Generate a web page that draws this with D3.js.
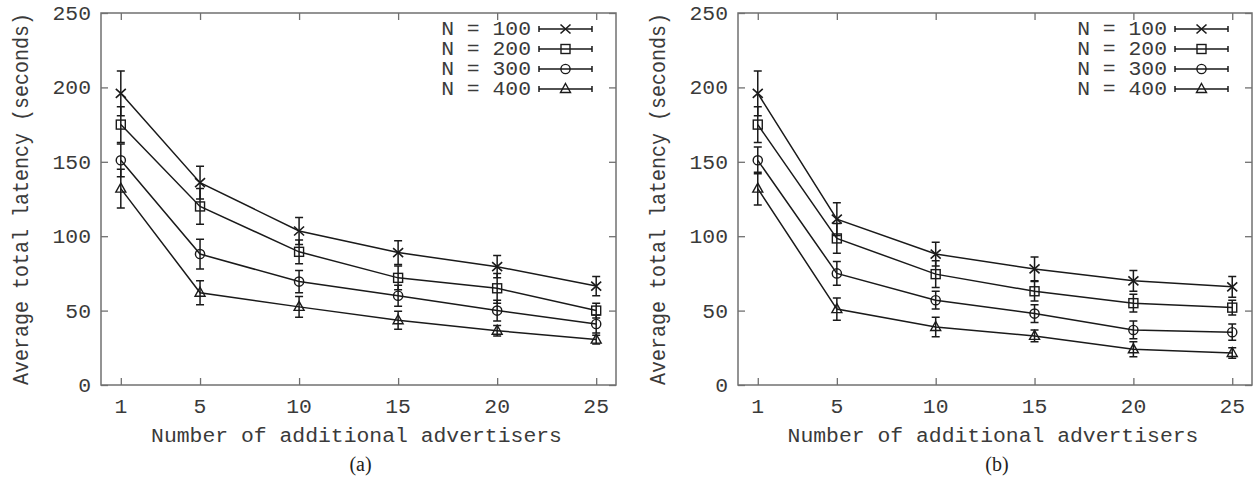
<!DOCTYPE html>
<html>
<head>
<meta charset="utf-8">
<script src="https://cdn.jsdelivr.net/npm/d3@7"></script>
<style>
  html, body { margin: 0; padding: 0; background: #fff; }
  svg { display: block; }
</style>
</head>
<body>
<svg id="chart" width="1253" height="480"></svg>
<script>
// ---------- data ----------
const xValues = [1, 5, 10, 15, 20, 25];
const xTicks = [1, 5, 10, 15, 20, 25];
const yTicks = [0, 50, 100, 150, 200, 250];
const seriesNames = ["N = 100", "N = 200", "N = 300", "N = 400"];
const markerTypes = ["cross", "square", "circle", "triangle"];
const panelLabels = ["(a)", "(b)"];
const xAxisTitle = "Number of additional advertisers";
const yAxisTitle = "Average total latency (seconds)";

// panel (a)
const a_n100 = [196, 136, 103.5, 89, 79.5, 66.5];
const a_n100_err = [15, 11, 9, 8, 7.5, 6.5];
const a_n200 = [175, 120, 89.5, 72, 65, 50];
const a_n200_err = [12, 12, 8, 8, 10, 5];
const a_n300 = [151, 88, 69.5, 60, 50, 41];
const a_n300_err = [11, 10, 7.5, 7, 7, 6];
const a_n400 = [132, 62, 52.5, 43.5, 36.5, 30.5];
const a_n400_err = [13, 8, 7, 6, 3.5, 3];

// panel (b)
const b_n100 = [196, 111.5, 88, 78, 70, 66];
const b_n100_err = [15, 11, 8, 8, 7, 7];
const b_n200 = [175, 98.5, 74.5, 63, 55, 52];
const b_n200_err = [12, 10, 9, 6.5, 6, 5];
const b_n300 = [151, 75, 57, 48, 37, 35.5];
const b_n300_err = [9, 8, 6, 6, 6, 5.5];
const b_n400 = [132, 51, 39, 33, 24, 21.5];
const b_n400_err = [11, 7.5, 6.5, 4, 5, 3.5];

const panels = [
  { left: 101, right: 616, values: [a_n100, a_n200, a_n300, a_n400], errs: [a_n100_err, a_n200_err, a_n300_err, a_n400_err] },
  { left: 738, right: 1252, values: [b_n100, b_n200, b_n300, b_n400], errs: [b_n100_err, b_n200_err, b_n300_err, b_n400_err] }
];

// ---------- drawing ----------
const svg = d3.select("#chart");
const plotTop = 13, plotBottom = 385;
const frameColor = "#707070";
const textColor = "#3a3a3a";
const lineColor = "#1a1a1a";
const monoFont = "'Liberation Mono', 'DejaVu Sans Mono', monospace";
const fs = 20;
const sx = 1.07;

function drawMarker(g, type, cx, cy) {
  if (type === "cross") {
    g.append("path").attr("d", `M${cx-5},${cy-4.5}L${cx+5},${cy+4.5}M${cx-5},${cy+4.5}L${cx+5},${cy-4.5}`)
      .attr("stroke", lineColor).attr("stroke-width", 1.6).attr("fill", "none");
  } else if (type === "square") {
    g.append("rect").attr("x", cx-4.5).attr("y", cy-4.5).attr("width", 9).attr("height", 9)
      .attr("stroke", lineColor).attr("stroke-width", 1.4).attr("fill", "none");
  } else if (type === "circle") {
    g.append("circle").attr("cx", cx).attr("cy", cy).attr("r", 4.6)
      .attr("stroke", lineColor).attr("stroke-width", 1.4).attr("fill", "none");
  } else {
    g.append("path").attr("d", `M${cx},${cy-5.5}L${cx+5},${cy+3.5}L${cx-5},${cy+3.5}Z`)
      .attr("stroke", lineColor).attr("stroke-width", 1.4).attr("fill", "none");
  }
}

panels.forEach((p, pi) => {
  const g = svg.append("g");
  const x = d3.scaleLinear().domain([0, 26]).range([p.left, p.right]);
  const y = d3.scaleLinear().domain([0, 250]).range([plotBottom, plotTop]);
  const tickLen = 7;

  // ticks (mirrored, inward)
  const axB = d3.axisBottom(x).tickValues(xTicks).tickSize(-tickLen).tickFormat("");
  const axT = d3.axisTop(x).tickValues(xTicks).tickSize(-tickLen).tickFormat("");
  const axL = d3.axisLeft(y).tickValues(yTicks).tickSize(-tickLen).tickFormat("");
  const axR = d3.axisRight(y).tickValues(yTicks).tickSize(-tickLen).tickFormat("");
  [[axB, `translate(0,${plotBottom})`], [axT, `translate(0,${plotTop})`], [axL, `translate(${p.left},0)`], [axR, `translate(${p.right},0)`]]
    .forEach(([ax, tr]) => {
      const a = g.append("g").attr("transform", tr).call(ax);
      a.select(".domain").remove();
      a.selectAll("line").attr("stroke", frameColor).attr("stroke-width", 1.3);
    });

  // frame
  g.append("rect").attr("x", p.left).attr("y", plotTop).attr("width", p.right - p.left).attr("height", plotBottom - plotTop)
    .attr("fill", "none").attr("stroke", frameColor).attr("stroke-width", 1.5);

  // tick labels
  xTicks.forEach(t => {
    g.append("text").attr("transform", `translate(${x(t)},${413}) scale(${sx},1)`)
      .attr("text-anchor", "middle").attr("font-family", monoFont).attr("font-size", fs)
      .attr("fill", textColor).text(t);
  });
  yTicks.forEach(t => {
    g.append("text").attr("transform", `translate(${p.left - 10},${y(t) + 7}) scale(${sx},1)`)
      .attr("text-anchor", "end").attr("font-family", monoFont).attr("font-size", fs)
      .attr("fill", textColor).text(t);
  });

  // axis titles
  const cx = (p.left + p.right) / 2;
  g.append("text").attr("transform", `translate(${cx - 2},${442}) scale(${sx},1)`)
    .attr("text-anchor", "middle").attr("font-family", monoFont).attr("font-size", fs)
    .attr("fill", textColor).text(xAxisTitle);
  g.append("text").attr("transform", `translate(${p.left - 73},${(plotTop + plotBottom) / 2}) scale(${sx},1) rotate(-90)`)
    .attr("text-anchor", "middle").attr("font-family", monoFont).attr("font-size", fs)
    .attr("fill", textColor).text(yAxisTitle);
  g.append("text").attr("x", cx + 2).attr("y", 471)
    .attr("text-anchor", "middle").attr("font-family", "'Liberation Serif', 'Times New Roman', serif")
    .attr("font-size", 20).attr("fill", "#222").text(panelLabels[pi]);

  // series
  const line = d3.line().x((d, i) => x(xValues[i])).y(d => y(d));
  p.values.forEach((vals, si) => {
    const errs = p.errs[si];
    g.append("path").datum(vals).attr("d", line).attr("fill", "none")
      .attr("stroke", lineColor).attr("stroke-width", 1.5);
    vals.forEach((v, i) => {
      const px = x(xValues[i]);
      const y0 = y(v - errs[i]), y1 = y(v + errs[i]);
      g.append("path").attr("d", `M${px},${y0}L${px},${y1}M${px-4},${y0}L${px+4},${y0}M${px-4},${y1}L${px+4},${y1}`)
        .attr("stroke", lineColor).attr("stroke-width", 1.5).attr("fill", "none");
      drawMarker(g, markerTypes[si], px, y(v));
    });
  });

  // legend
  seriesNames.forEach((name, si) => {
    const ly = 29 + si * 20;
    g.append("text").attr("transform", `translate(${p.right - 85},${ly + 6}) scale(${sx},1)`)
      .attr("text-anchor", "end").attr("font-family", monoFont).attr("font-size", fs)
      .attr("fill", textColor).text(name);
    const l0 = p.right - 77, l1 = p.right - 24;
    g.append("path").attr("d", `M${l0},${ly}L${l1},${ly}M${l0},${ly-3}L${l0},${ly+3}M${l1},${ly-3}L${l1},${ly+3}`)
      .attr("stroke", lineColor).attr("stroke-width", 1.5).attr("fill", "none");
    drawMarker(g, markerTypes[si], (l0 + l1) / 2, ly);
  });
});
</script>
</body>
</html>
